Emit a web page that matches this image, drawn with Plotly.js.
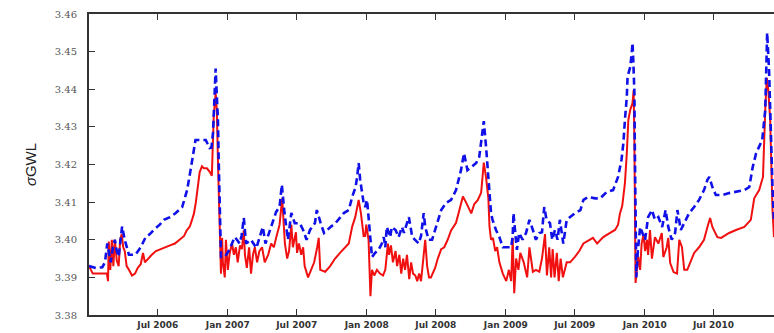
<!DOCTYPE html>
<html>
<head>
<meta charset="utf-8">
<script src="https://cdn.plot.ly/plotly-3.0.1.min.js"></script>
<style>html,body{margin:0;padding:0;background:#fff;}#chart{width:774px;height:333px;}</style>
</head>
<body>
<div id="chart"></div>
<script>
// Red (solid) series
const redDates = ["2006-01-01","2006-01-11","2006-02-17","2006-02-20","2006-02-22","2006-02-26","2006-03-02","2006-03-06","2006-03-10","2006-03-15","2006-03-20","2006-03-24","2006-03-28","2006-04-01","2006-04-05","2006-04-10","2006-04-16","2006-04-24","2006-05-02","2006-05-09","2006-05-17","2006-05-23","2006-05-28","2006-06-05","2006-06-15","2006-06-26","2006-07-07","2006-07-20","2006-08-02","2006-08-15","2006-08-28","2006-09-08","2006-09-15","2006-09-23","2006-09-28","2006-10-04","2006-10-09","2006-10-14","2006-10-19","2006-10-25","2006-10-30","2006-11-07","2006-11-15","2006-11-20","2006-11-23","2006-11-25","2006-11-30","2006-12-03","2006-12-06","2006-12-10","2006-12-14","2006-12-17","2006-12-19","2006-12-24","2006-12-27","2007-01-01","2007-01-06","2007-01-12","2007-01-17","2007-01-22","2007-01-27","2007-02-02","2007-02-07","2007-02-12","2007-02-15","2007-02-20","2007-02-26","2007-03-03","2007-03-08","2007-03-13","2007-03-19","2007-03-25","2007-04-01","2007-04-08","2007-04-17","2007-04-25","2007-05-02","2007-05-08","2007-05-17","2007-05-24","2007-05-29","2007-05-31","2007-06-06","2007-06-11","2007-06-17","2007-06-21","2007-06-29","2007-07-02","2007-07-07","2007-07-13","2007-07-18","2007-07-22","2007-07-31","2007-08-08","2007-08-16","2007-08-24","2007-08-28","2007-09-01","2007-09-14","2007-09-27","2007-10-10","2007-10-23","2007-11-05","2007-11-15","2007-11-24","2007-12-02","2007-12-11","2007-12-17","2007-12-24","2007-12-28","2007-12-31","2008-01-06","2008-01-11","2008-01-15","2008-01-21","2008-01-28","2008-02-05","2008-02-13","2008-02-19","2008-02-26","2008-02-29","2008-03-05","2008-03-10","2008-03-17","2008-03-21","2008-03-27","2008-04-01","2008-04-06","2008-04-11","2008-04-16","2008-04-22","2008-04-27","2008-05-02","2008-05-08","2008-05-13","2008-05-18","2008-05-23","2008-05-28","2008-06-03","2008-06-08","2008-06-13","2008-06-18","2008-06-29","2008-07-06","2008-07-15","2008-07-23","2008-08-01","2008-08-10","2008-08-23","2008-09-01","2008-09-10","2008-09-18","2008-09-27","2008-10-02","2008-10-10","2008-10-19","2008-10-28","2008-11-04","2008-11-10","2008-11-16","2008-11-19","2008-11-23","2008-11-28","2008-12-04","2008-12-09","2008-12-15","2008-12-24","2009-01-02","2009-01-09","2009-01-15","2009-01-19","2009-01-23","2009-01-28","2009-02-03","2009-02-08","2009-02-17","2009-02-26","2009-03-04","2009-03-13","2009-03-21","2009-03-30","2009-04-06","2009-04-14","2009-04-19","2009-04-25","2009-04-30","2009-05-04","2009-05-09","2009-05-15","2009-05-20","2009-05-25","2009-05-31","2009-06-10","2009-06-19","2009-07-02","2009-07-13","2009-07-24","2009-08-10","2009-08-18","2009-08-29","2009-09-14","2009-10-02","2009-10-15","2009-10-23","2009-10-28","2009-11-03","2009-11-07","2009-11-10","2009-11-15","2009-11-19","2009-11-24","2009-11-30","2009-12-03","2009-12-05","2009-12-08","2009-12-15","2009-12-20","2009-12-24","2009-12-29","2010-01-02","2010-01-07","2010-01-10","2010-01-15","2010-01-20","2010-01-28","2010-02-06","2010-02-15","2010-02-19","2010-02-28","2010-03-04","2010-03-09","2010-03-18","2010-03-27","2010-04-02","2010-04-09","2010-04-15","2010-04-23","2010-05-02","2010-05-11","2010-05-24","2010-06-06","2010-06-15","2010-06-22","2010-06-28","2010-07-11","2010-07-21","2010-08-11","2010-08-29","2010-09-20","2010-10-07","2010-10-16","2010-10-29","2010-11-08","2010-11-14","2010-11-18","2010-11-22","2010-11-27","2010-12-03","2010-12-07"];
const redValues = [3.393,3.391,3.391,3.389,3.3995,3.392,3.400,3.393,3.400,3.3945,3.393,3.400,3.4015,3.398,3.397,3.393,3.392,3.3905,3.391,3.3925,3.3935,3.3965,3.394,3.395,3.396,3.397,3.3975,3.398,3.3985,3.399,3.400,3.401,3.4025,3.4035,3.405,3.407,3.410,3.4145,3.418,3.4195,3.419,3.419,3.418,3.417,3.4255,3.433,3.439,3.4345,3.421,3.402,3.391,3.4005,3.394,3.390,3.400,3.392,3.3965,3.399,3.396,3.398,3.394,3.3985,3.3975,3.4025,3.396,3.3925,3.398,3.391,3.396,3.398,3.394,3.397,3.398,3.394,3.396,3.399,3.398,3.4005,3.404,3.411,3.404,3.399,3.395,3.397,3.404,3.398,3.402,3.3965,3.399,3.396,3.398,3.393,3.390,3.392,3.394,3.398,3.4005,3.392,3.3915,3.393,3.395,3.3965,3.398,3.399,3.4035,3.406,3.4106,3.407,3.401,3.401,3.404,3.400,3.385,3.392,3.3905,3.392,3.391,3.3905,3.392,3.399,3.396,3.3985,3.394,3.397,3.393,3.396,3.391,3.395,3.392,3.396,3.3895,3.394,3.391,3.3905,3.389,3.391,3.389,3.394,3.400,3.393,3.390,3.390,3.3925,3.395,3.3975,3.398,3.400,3.4025,3.4045,3.408,3.4115,3.410,3.408,3.407,3.4095,3.4105,3.4125,3.4205,3.4165,3.411,3.4035,3.400,3.4005,3.397,3.398,3.394,3.391,3.389,3.392,3.389,3.4005,3.3858,3.395,3.392,3.3965,3.394,3.390,3.398,3.3915,3.392,3.3915,3.395,3.4015,3.3905,3.398,3.390,3.3975,3.390,3.3965,3.389,3.395,3.390,3.394,3.394,3.3955,3.397,3.399,3.400,3.4005,3.399,3.4007,3.4018,3.4026,3.404,3.407,3.409,3.4125,3.415,3.423,3.4318,3.4345,3.4363,3.4398,3.4257,3.3885,3.3955,3.392,3.399,3.4015,3.397,3.400,3.396,3.4026,3.395,3.4007,3.399,3.4018,3.3954,3.398,3.4005,3.3938,3.3914,3.391,3.400,3.398,3.392,3.392,3.3945,3.3965,3.398,3.400,3.4034,3.4058,3.4034,3.4007,3.4005,3.4018,3.4026,3.4034,3.4053,3.411,3.4132,3.4167,3.4345,3.443,3.4398,3.4318,3.408,3.4007];

// Blue (dashed) series
const blueDates = ["2006-01-01","2006-01-19","2006-02-05","2006-02-12","2006-02-18","2006-02-22","2006-02-27","2006-03-05","2006-03-10","2006-03-15","2006-03-20","2006-03-29","2006-04-05","2006-04-16","2006-05-03","2006-05-17","2006-05-30","2006-06-10","2006-06-20","2006-07-06","2006-07-17","2006-08-02","2006-08-17","2006-09-03","2006-09-16","2006-09-25","2006-10-04","2006-10-08","2006-10-26","2006-11-04","2006-11-14","2006-11-19","2006-11-23","2006-11-27","2006-11-30","2006-12-02","2006-12-06","2006-12-08","2006-12-12","2006-12-14","2006-12-24","2007-01-05","2007-01-12","2007-01-19","2007-01-25","2007-02-01","2007-02-06","2007-02-12","2007-02-18","2007-03-03","2007-03-17","2007-03-26","2007-04-03","2007-04-10","2007-04-25","2007-05-08","2007-05-17","2007-05-23","2007-05-30","2007-06-08","2007-06-17","2007-06-26","2007-07-09","2007-07-18","2007-07-27","2007-08-05","2007-08-18","2007-08-23","2007-09-02","2007-09-11","2007-09-28","2007-10-11","2007-11-02","2007-11-15","2007-11-24","2007-12-03","2007-12-07","2007-12-11","2007-12-15","2007-12-19","2007-12-24","2007-12-28","2008-01-02","2008-01-06","2008-01-11","2008-01-15","2008-01-23","2008-02-01","2008-02-10","2008-02-15","2008-02-19","2008-02-23","2008-03-03","2008-03-07","2008-03-17","2008-03-25","2008-04-03","2008-04-08","2008-04-16","2008-04-21","2008-04-30","2008-05-08","2008-05-17","2008-05-23","2008-05-30","2008-06-03","2008-06-12","2008-06-21","2008-07-01","2008-07-15","2008-07-28","2008-08-10","2008-08-23","2008-09-05","2008-09-13","2008-09-22","2008-10-02","2008-10-15","2008-10-23","2008-10-28","2008-11-04","2008-11-10","2008-11-14","2008-11-19","2008-11-23","2008-11-27","2008-12-06","2008-12-15","2008-12-24","2009-01-06","2009-01-15","2009-01-19","2009-01-21","2009-01-25","2009-01-30","2009-02-05","2009-02-14","2009-02-23","2009-03-04","2009-03-13","2009-03-21","2009-03-30","2009-04-06","2009-04-12","2009-04-18","2009-04-27","2009-05-03","2009-05-10","2009-05-17","2009-05-23","2009-06-01","2009-06-10","2009-06-19","2009-07-02","2009-07-16","2009-07-24","2009-08-06","2009-08-24","2009-09-06","2009-09-23","2009-10-10","2009-10-23","2009-11-01","2009-11-06","2009-11-10","2009-11-15","2009-11-17","2009-11-24","2009-11-28","2009-11-30","2009-12-02","2009-12-05","2009-12-06","2009-12-08","2009-12-10","2009-12-14","2009-12-20","2009-12-26","2010-01-02","2010-01-10","2010-01-20","2010-01-28","2010-02-06","2010-02-16","2010-02-25","2010-03-04","2010-03-13","2010-03-22","2010-03-28","2010-04-06","2010-04-15","2010-04-28","2010-05-11","2010-05-24","2010-06-06","2010-06-15","2010-06-20","2010-06-28","2010-07-07","2010-07-25","2010-08-11","2010-08-28","2010-09-20","2010-10-03","2010-10-12","2010-10-21","2010-10-29","2010-11-06","2010-11-14","2010-11-17","2010-11-19","2010-11-24","2010-11-28","2010-12-03","2010-12-07"];
const blueValues = [3.393,3.3925,3.3927,3.394,3.399,3.3965,3.394,3.398,3.400,3.397,3.3955,3.4035,3.400,3.396,3.396,3.398,3.4007,3.4015,3.4026,3.404,3.4053,3.406,3.4071,3.4087,3.4132,3.4185,3.4247,3.4265,3.4265,3.4265,3.4244,3.4245,3.4284,3.438,3.4455,3.4406,3.4318,3.4212,3.406,3.3954,3.3954,3.3973,3.399,3.4007,3.400,3.399,3.401,3.4058,3.399,3.400,3.3978,3.4007,3.4034,3.399,3.4034,3.4074,3.4087,3.4146,3.4071,3.400,3.4071,3.4044,3.4044,3.4026,3.400,3.4026,3.4044,3.4079,3.4044,3.4018,3.4034,3.4044,3.4071,3.4079,3.4114,3.414,3.4167,3.4204,3.4159,3.4132,3.4098,3.4087,3.4106,3.406,3.4007,3.3954,3.3965,3.3973,3.399,3.4007,3.398,3.4034,3.4007,3.4034,3.4026,3.4007,3.4034,3.4018,3.4044,3.406,3.4007,3.400,3.399,3.401,3.4071,3.4034,3.400,3.400,3.4034,3.4079,3.4098,3.4106,3.4132,3.4185,3.423,3.4185,3.4193,3.4204,3.422,3.4265,3.4315,3.4247,3.4185,3.4114,3.4071,3.4053,3.4026,3.4007,3.398,3.398,3.398,3.401,3.4071,3.4026,3.3973,3.4018,3.400,3.4018,3.4053,3.4026,3.400,3.4018,3.402,3.4087,3.4053,3.4044,3.400,3.4026,3.400,3.4053,3.399,3.4053,3.406,3.4071,3.4079,3.4106,3.4114,3.411,3.411,3.4127,3.4132,3.4167,3.4212,3.4257,3.4318,3.438,3.4433,3.4459,3.4496,3.4523,3.4478,3.439,3.4257,3.408,3.390,3.397,3.4034,3.4018,3.400,3.406,3.4079,3.4053,3.406,3.4034,3.4079,3.4034,3.400,3.4018,3.4079,3.4026,3.4044,3.4071,3.4087,3.4106,3.4132,3.4159,3.4167,3.414,3.4119,3.4119,3.4124,3.4127,3.4132,3.414,3.4193,3.423,3.4247,3.4265,3.4345,3.4478,3.455,3.4451,3.430,3.414,3.405];

// Axis ticks
const xTickVals = ["2006-07-01","2007-01-01","2007-07-01","2008-01-01","2008-07-01","2009-01-01","2009-07-01","2010-01-01","2010-07-01"];
const xTickText = ["Jul 2006","Jan 2007","Jul 2007","Jan 2008","Jul 2008","Jan 2009","Jul 2009","Jan 2010","Jul 2010"];
const yTickVals = [3.38,3.39,3.40,3.41,3.42,3.43,3.44,3.45,3.46];
const yTickText = ["3.38","3.39","3.40","3.41","3.42","3.43","3.44","3.45","3.46"];

const traces = [
  {x: redDates, y: redValues, type: "scatter", mode: "lines",
   line: {color: "#f01010", width: 2}, hoverinfo: "skip"},
  {x: blueDates, y: blueValues, type: "scatter", mode: "lines",
   line: {color: "#1010e8", width: 2.6, dash: "7px,4px"}, hoverinfo: "skip"}
];

const layout = {
  width: 774, height: 333,
  margin: {l: 89, r: 0, t: 14, b: 18, pad: 0},
  paper_bgcolor: "#ffffff", plot_bgcolor: "#ffffff",
  showlegend: false,
  xaxis: {
    type: "date",
    range: ["2006-01-01", "2010-12-07"],
    tickvals: xTickVals, ticktext: xTickText,
    ticks: "inside", ticklen: 6, tickwidth: 1.2, tickcolor: "#333",
    showline: true, linecolor: "#333", linewidth: 2, mirror: "ticks",
    showgrid: false, zeroline: false,
    tickfont: {family: "DejaVu Sans", size: 9, color: "#333", weight: "bold"}
  },
  yaxis: {
    range: [3.38, 3.46],
    tickvals: yTickVals, ticktext: yTickText,
    ticks: "inside", ticklen: 6, tickwidth: 1.2, tickcolor: "#333",
    showline: true, linecolor: "#333", linewidth: 2, mirror: false,
    showgrid: false, zeroline: false,
    ticklabelstandoff: 8,
    tickfont: {family: "DejaVu Serif", size: 10, color: "#555"},
    title: {text: "<i>σ</i>GWL", font: {family: "Liberation Sans", size: 15, color: "#222"}, standoff: 14}
  }
};

Plotly.newPlot("chart", traces, layout, {displayModeBar: false, staticPlot: true});
</script>
</body>
</html>
